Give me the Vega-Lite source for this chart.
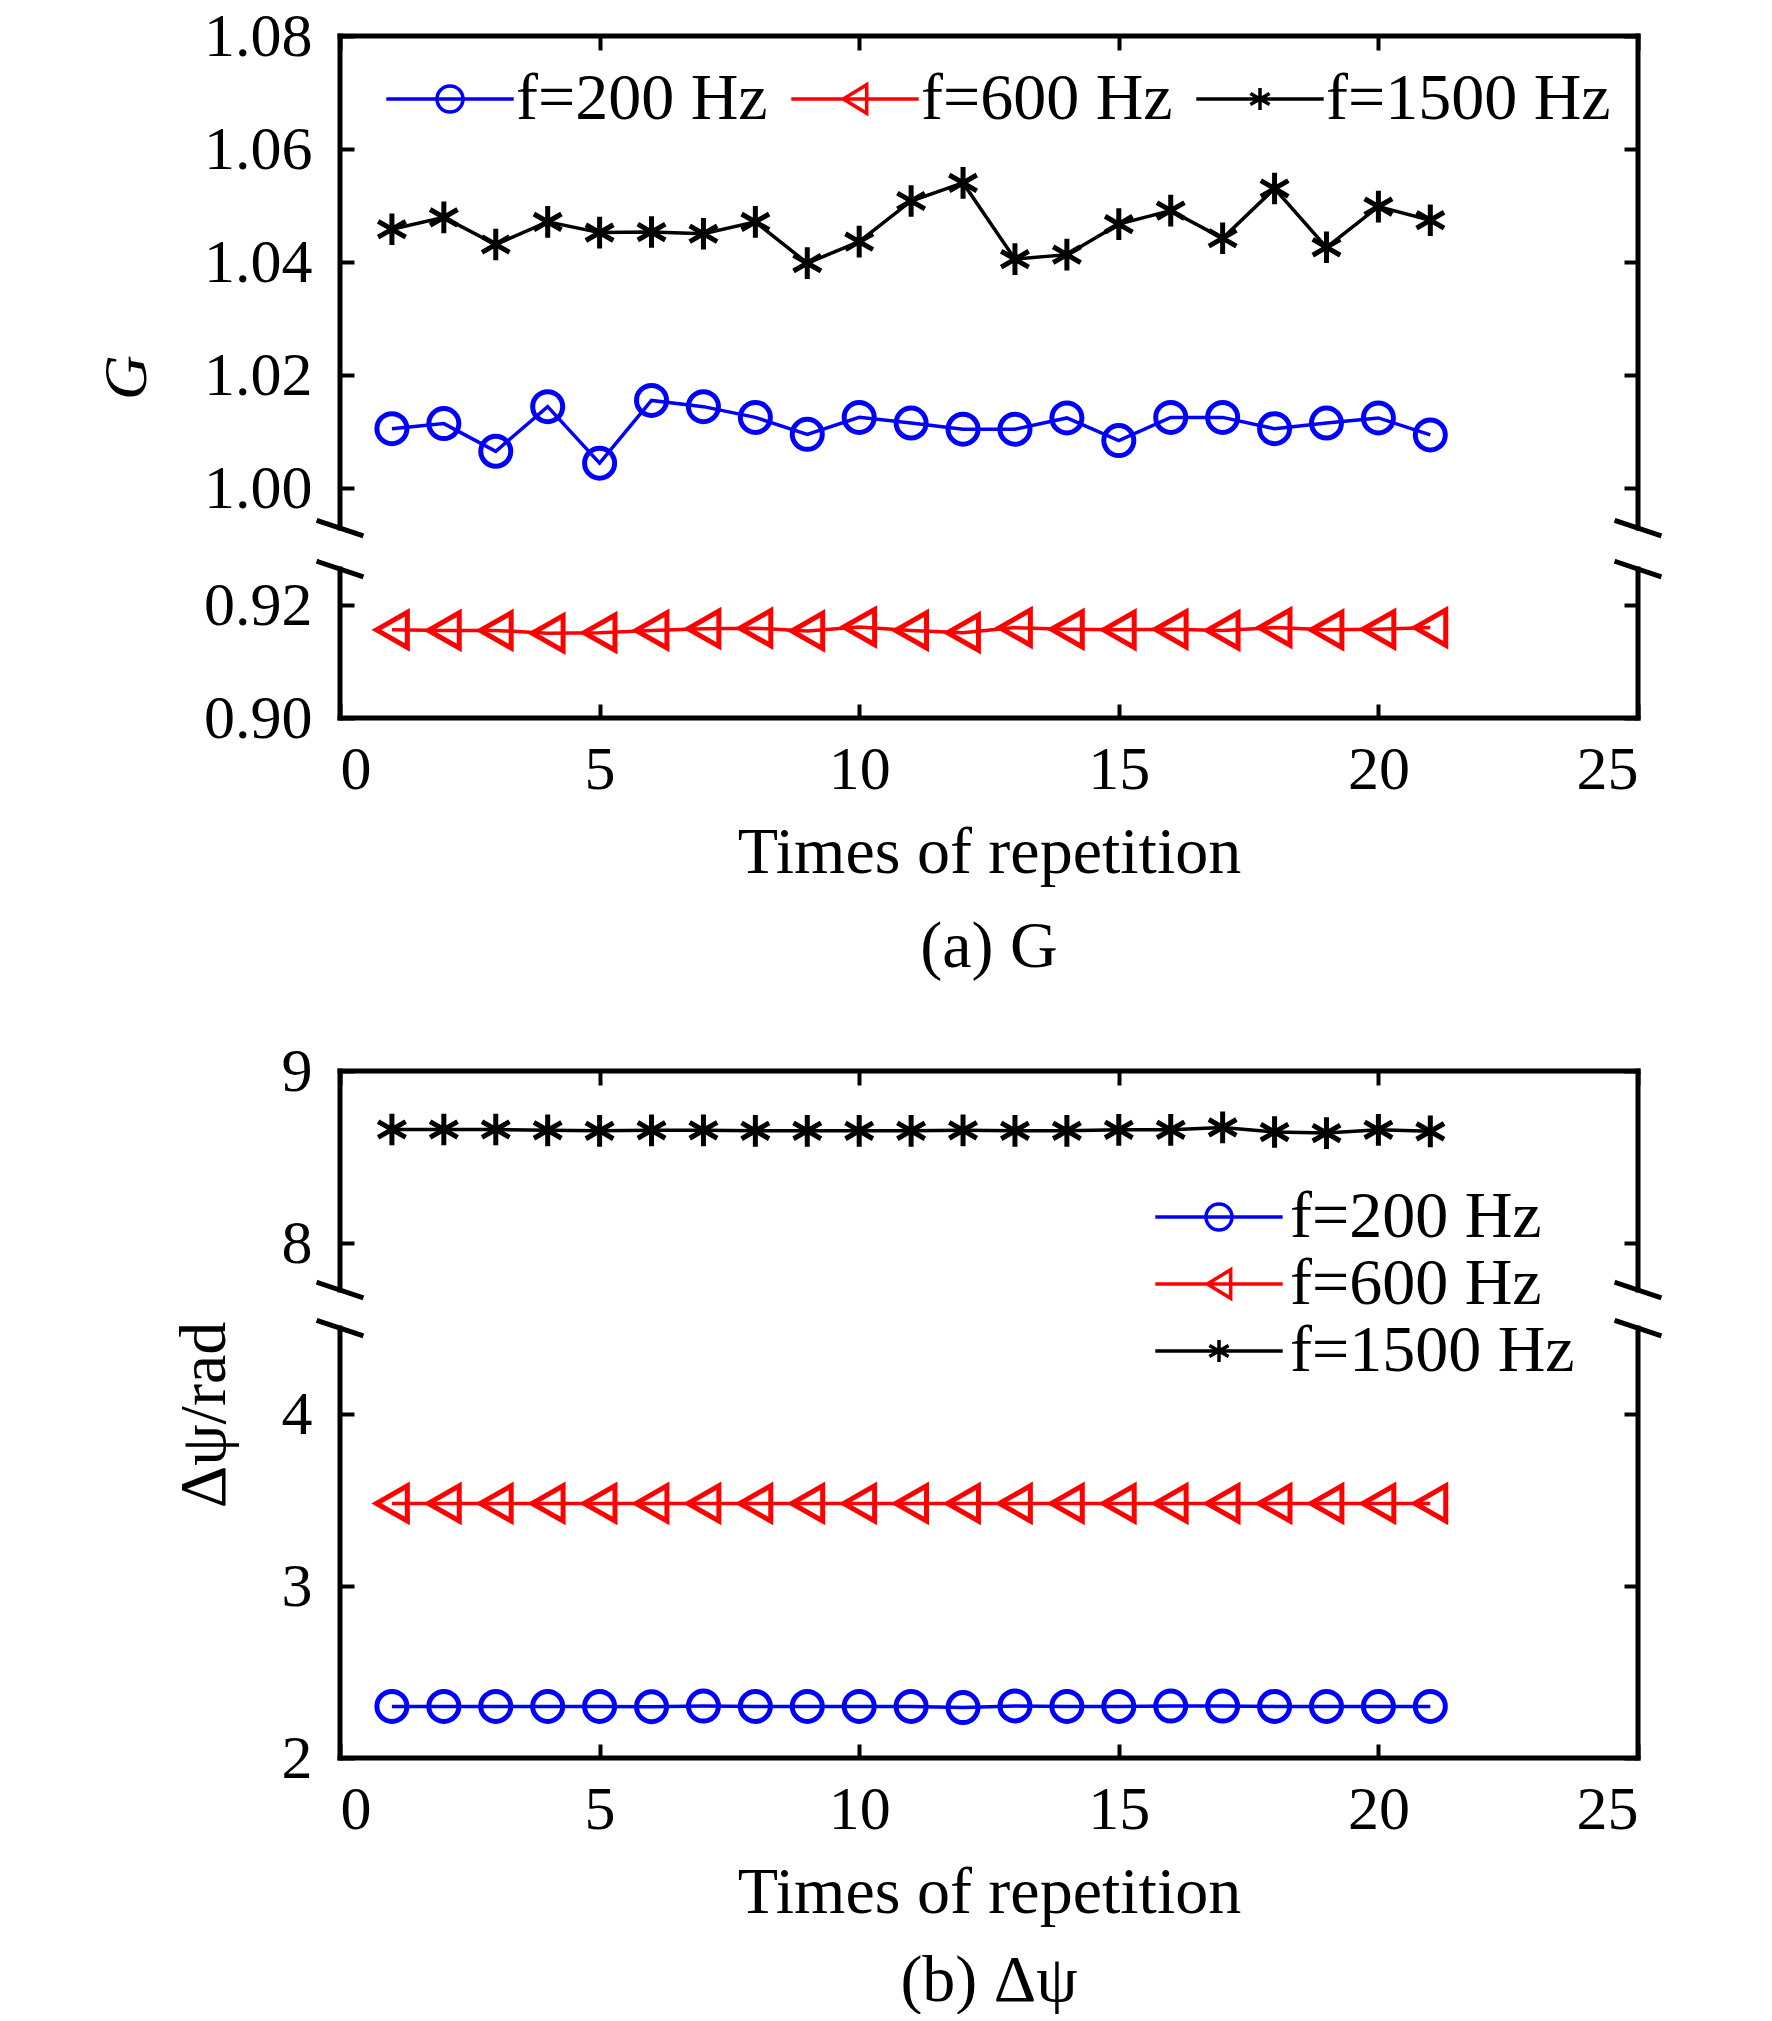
{
  "$schema": "https://vega.github.io/schema/vega-lite/v6.json",
  "background": "white",
  "padding": {"left": 95, "top": 5, "right": 0, "bottom": 0},
  "spacing": 60,
  "resolve": {"scale": {"color": "independent", "shape": "independent", "size": "independent"}},
  "config": {
    "view": {"stroke": null},
    "font": "Liberation Serif",
    "axis": {
      "grid": false, "domain": false,
      "tickColor": "black", "tickWidth": 4, "tickSize": -14,
      "labelFont": "Liberation Serif", "labelFontSize": 62, "labelColor": "black",
      "titleFont": "Liberation Serif", "titleFontSize": 66, "titleFontWeight": "normal", "titleColor": "black"
    },
    "title": {"font": "Liberation Serif", "fontSize": 66, "fontWeight": "normal", "color": "black"},
    "legend": {"labelFont": "Liberation Serif", "labelFontSize": 66, "labelColor": "black", "padding": 0, "labelLimit": 600}
  },
  "datasets": {
    "frame_a": [
      {"x": 0, "x2": 25, "y": 1.08, "y2": 1.08},
      {"x": 0, "x2": 25, "y": 0.90, "y2": 0.90},
      {"x": 0, "x2": 0, "y": 1.08, "y2": 0.9726},
      {"x": 0, "x2": 0, "y": 0.9446, "y2": 0.90},
      {"x": 25, "x2": 25, "y": 1.08, "y2": 0.9726},
      {"x": 25, "x2": 25, "y": 0.9446, "y2": 0.90},
      {"x": -0.405, "x2": 0.405, "y": 0.9774, "y2": 0.9678},
      {"x": -0.405, "x2": 0.405, "y": 0.9494, "y2": 0.9398},
      {"x": 24.595, "x2": 25.405, "y": 0.9774, "y2": 0.9678},
      {"x": 24.595, "x2": 25.405, "y": 0.9494, "y2": 0.9398}
    ],
    "frame_b": [
      {"x": 0, "x2": 25, "y": 9, "y2": 9},
      {"x": 0, "x2": 25, "y": 2, "y2": 2},
      {"x": 0, "x2": 0, "y": 9, "y2": 6.90},
      {"x": 0, "x2": 0, "y": 6.01, "y2": 2},
      {"x": 25, "x2": 25, "y": 9, "y2": 6.90},
      {"x": 25, "x2": 25, "y": 6.01, "y2": 2},
      {"x": -0.405, "x2": 0.405, "y": 7.064, "y2": 6.736},
      {"x": -0.405, "x2": 0.405, "y": 6.174, "y2": 5.846},
      {"x": 24.595, "x2": 25.405, "y": 7.064, "y2": 6.736},
      {"x": 24.595, "x2": 25.405, "y": 6.174, "y2": 5.846}
    ],
    "g": [
      {"series": "f=200 Hz", "n": 1, "v": 1.0105}, {"series": "f=200 Hz", "n": 2, "v": 1.0114},
      {"series": "f=200 Hz", "n": 3, "v": 1.0065}, {"series": "f=200 Hz", "n": 4, "v": 1.0144},
      {"series": "f=200 Hz", "n": 5, "v": 1.0044}, {"series": "f=200 Hz", "n": 6, "v": 1.0155},
      {"series": "f=200 Hz", "n": 7, "v": 1.0144}, {"series": "f=200 Hz", "n": 8, "v": 1.0125},
      {"series": "f=200 Hz", "n": 9, "v": 1.0095}, {"series": "f=200 Hz", "n": 10, "v": 1.0125},
      {"series": "f=200 Hz", "n": 11, "v": 1.0115}, {"series": "f=200 Hz", "n": 12, "v": 1.0104},
      {"series": "f=200 Hz", "n": 13, "v": 1.0104}, {"series": "f=200 Hz", "n": 14, "v": 1.0124},
      {"series": "f=200 Hz", "n": 15, "v": 1.0084}, {"series": "f=200 Hz", "n": 16, "v": 1.0125},
      {"series": "f=200 Hz", "n": 17, "v": 1.0125}, {"series": "f=200 Hz", "n": 18, "v": 1.0105},
      {"series": "f=200 Hz", "n": 19, "v": 1.0115}, {"series": "f=200 Hz", "n": 20, "v": 1.0124},
      {"series": "f=200 Hz", "n": 21, "v": 1.0094},
      {"series": "f=600 Hz", "n": 1, "v": 0.9156}, {"series": "f=600 Hz", "n": 2, "v": 0.9155},
      {"series": "f=600 Hz", "n": 3, "v": 0.9155}, {"series": "f=600 Hz", "n": 4, "v": 0.9150},
      {"series": "f=600 Hz", "n": 5, "v": 0.9151}, {"series": "f=600 Hz", "n": 6, "v": 0.9155},
      {"series": "f=600 Hz", "n": 7, "v": 0.9158}, {"series": "f=600 Hz", "n": 8, "v": 0.9159},
      {"series": "f=600 Hz", "n": 9, "v": 0.9154}, {"series": "f=600 Hz", "n": 10, "v": 0.9161},
      {"series": "f=600 Hz", "n": 11, "v": 0.9155}, {"series": "f=600 Hz", "n": 12, "v": 0.9151},
      {"series": "f=600 Hz", "n": 13, "v": 0.9160}, {"series": "f=600 Hz", "n": 14, "v": 0.9157},
      {"series": "f=600 Hz", "n": 15, "v": 0.9156}, {"series": "f=600 Hz", "n": 16, "v": 0.9157},
      {"series": "f=600 Hz", "n": 17, "v": 0.9155}, {"series": "f=600 Hz", "n": 18, "v": 0.9160},
      {"series": "f=600 Hz", "n": 19, "v": 0.9156}, {"series": "f=600 Hz", "n": 20, "v": 0.9157},
      {"series": "f=600 Hz", "n": 21, "v": 0.9160},
      {"series": "f=1500 Hz", "n": 1, "v": 1.0458}, {"series": "f=1500 Hz", "n": 2, "v": 1.0479},
      {"series": "f=1500 Hz", "n": 3, "v": 1.0431}, {"series": "f=1500 Hz", "n": 4, "v": 1.0471},
      {"series": "f=1500 Hz", "n": 5, "v": 1.0452}, {"series": "f=1500 Hz", "n": 6, "v": 1.0453},
      {"series": "f=1500 Hz", "n": 7, "v": 1.0450}, {"series": "f=1500 Hz", "n": 8, "v": 1.0471},
      {"series": "f=1500 Hz", "n": 9, "v": 1.0398}, {"series": "f=1500 Hz", "n": 10, "v": 1.0436},
      {"series": "f=1500 Hz", "n": 11, "v": 1.0508}, {"series": "f=1500 Hz", "n": 12, "v": 1.0540},
      {"series": "f=1500 Hz", "n": 13, "v": 1.0405}, {"series": "f=1500 Hz", "n": 14, "v": 1.0413},
      {"series": "f=1500 Hz", "n": 15, "v": 1.0467}, {"series": "f=1500 Hz", "n": 16, "v": 1.0491},
      {"series": "f=1500 Hz", "n": 17, "v": 1.0442}, {"series": "f=1500 Hz", "n": 18, "v": 1.0530},
      {"series": "f=1500 Hz", "n": 19, "v": 1.0426}, {"series": "f=1500 Hz", "n": 20, "v": 1.0498},
      {"series": "f=1500 Hz", "n": 21, "v": 1.0474}
    ],
    "psi": [
      {"series": "f=200 Hz", "n": 1, "v": 2.30}, {"series": "f=200 Hz", "n": 2, "v": 2.30},
      {"series": "f=200 Hz", "n": 3, "v": 2.30}, {"series": "f=200 Hz", "n": 4, "v": 2.30},
      {"series": "f=200 Hz", "n": 5, "v": 2.30}, {"series": "f=200 Hz", "n": 6, "v": 2.298},
      {"series": "f=200 Hz", "n": 7, "v": 2.302}, {"series": "f=200 Hz", "n": 8, "v": 2.30},
      {"series": "f=200 Hz", "n": 9, "v": 2.30}, {"series": "f=200 Hz", "n": 10, "v": 2.30},
      {"series": "f=200 Hz", "n": 11, "v": 2.30}, {"series": "f=200 Hz", "n": 12, "v": 2.293},
      {"series": "f=200 Hz", "n": 13, "v": 2.303}, {"series": "f=200 Hz", "n": 14, "v": 2.30},
      {"series": "f=200 Hz", "n": 15, "v": 2.30}, {"series": "f=200 Hz", "n": 16, "v": 2.302},
      {"series": "f=200 Hz", "n": 17, "v": 2.302}, {"series": "f=200 Hz", "n": 18, "v": 2.30},
      {"series": "f=200 Hz", "n": 19, "v": 2.30}, {"series": "f=200 Hz", "n": 20, "v": 2.30},
      {"series": "f=200 Hz", "n": 21, "v": 2.30},
      {"series": "f=600 Hz", "n": 1, "v": 3.48}, {"series": "f=600 Hz", "n": 2, "v": 3.48},
      {"series": "f=600 Hz", "n": 3, "v": 3.48}, {"series": "f=600 Hz", "n": 4, "v": 3.48},
      {"series": "f=600 Hz", "n": 5, "v": 3.48}, {"series": "f=600 Hz", "n": 6, "v": 3.48},
      {"series": "f=600 Hz", "n": 7, "v": 3.48}, {"series": "f=600 Hz", "n": 8, "v": 3.48},
      {"series": "f=600 Hz", "n": 9, "v": 3.48}, {"series": "f=600 Hz", "n": 10, "v": 3.48},
      {"series": "f=600 Hz", "n": 11, "v": 3.48}, {"series": "f=600 Hz", "n": 12, "v": 3.48},
      {"series": "f=600 Hz", "n": 13, "v": 3.48}, {"series": "f=600 Hz", "n": 14, "v": 3.48},
      {"series": "f=600 Hz", "n": 15, "v": 3.48}, {"series": "f=600 Hz", "n": 16, "v": 3.48},
      {"series": "f=600 Hz", "n": 17, "v": 3.48}, {"series": "f=600 Hz", "n": 18, "v": 3.48},
      {"series": "f=600 Hz", "n": 19, "v": 3.48}, {"series": "f=600 Hz", "n": 20, "v": 3.48},
      {"series": "f=600 Hz", "n": 21, "v": 3.48},
      {"series": "f=1500 Hz", "n": 1, "v": 8.66}, {"series": "f=1500 Hz", "n": 2, "v": 8.66},
      {"series": "f=1500 Hz", "n": 3, "v": 8.66}, {"series": "f=1500 Hz", "n": 4, "v": 8.655},
      {"series": "f=1500 Hz", "n": 5, "v": 8.652}, {"series": "f=1500 Hz", "n": 6, "v": 8.655},
      {"series": "f=1500 Hz", "n": 7, "v": 8.655}, {"series": "f=1500 Hz", "n": 8, "v": 8.652},
      {"series": "f=1500 Hz", "n": 9, "v": 8.652}, {"series": "f=1500 Hz", "n": 10, "v": 8.652},
      {"series": "f=1500 Hz", "n": 11, "v": 8.652}, {"series": "f=1500 Hz", "n": 12, "v": 8.655},
      {"series": "f=1500 Hz", "n": 13, "v": 8.652}, {"series": "f=1500 Hz", "n": 14, "v": 8.652},
      {"series": "f=1500 Hz", "n": 15, "v": 8.658}, {"series": "f=1500 Hz", "n": 16, "v": 8.658},
      {"series": "f=1500 Hz", "n": 17, "v": 8.672}, {"series": "f=1500 Hz", "n": 18, "v": 8.645},
      {"series": "f=1500 Hz", "n": 19, "v": 8.639}, {"series": "f=1500 Hz", "n": 20, "v": 8.658},
      {"series": "f=1500 Hz", "n": 21, "v": 8.649}
    ]
  },
  "vconcat": [
    {
      "width": 1298,
      "height": 682,
      "title": {"text": "(a) G", "orient": "bottom", "anchor": "middle", "offset": 30},
      "layer": [
        {
          "layer": [
            {
              "data": {"name": "frame_a"},
              "mark": {"type": "rule", "strokeWidth": 5, "color": "black", "strokeCap": "square"},
              "encoding": {
                "x": {"field": "x", "type": "quantitative", "scale": {"domain": [0, 25], "nice": false, "zero": false},
                      "axis": {"values": [0, 5, 10, 15, 20, 25], "title": "Times of repetition", "labelPadding": 35, "titlePadding": 20}},
                "x2": {"field": "x2"},
                "y": {"field": "y", "type": "quantitative", "scale": {"domain": [0.90, 0.92, 1.00, 1.08], "range": [682, 569, 452, 0], "nice": false, "zero": false},
                      "axis": {"values": [0.90, 0.92, 1.00, 1.02, 1.04, 1.06, 1.08], "format": ".2f", "title": "G", "titleFontStyle": "italic", "titleFontSize": 62, "labelPadding": 42, "titlePadding": 45}},
                "y2": {"field": "y2"}
              }
            },
            {
              "data": {"name": "g"},
              "mark": {"type": "line", "strokeWidth": 3.5},
              "encoding": {
                "x": {"field": "n", "type": "quantitative", "scale": {"domain": [0, 25], "nice": false, "zero": false}},
                "y": {"field": "v", "type": "quantitative", "scale": {"domain": [0.90, 0.92, 1.00, 1.08], "range": [682, 569, 452, 0], "nice": false, "zero": false}},
                "color": {"field": "series", "type": "nominal", "scale": {"domain": ["f=200 Hz", "f=600 Hz", "f=1500 Hz"], "range": ["#0000ff", "#ff0000", "#000000"]}, "legend": null}
              }
            },
            {
              "data": {"name": "g"},
              "mark": {"type": "point", "filled": false, "strokeWidth": 5, "opacity": 1},
              "encoding": {
                "x": {"field": "n", "type": "quantitative", "scale": {"domain": [0, 25], "nice": false, "zero": false}},
                "y": {"field": "v", "type": "quantitative", "scale": {"domain": [0.90, 0.92, 1.00, 1.08], "range": [682, 569, 452, 0], "nice": false, "zero": false}},
                "color": {"field": "series", "type": "nominal", "scale": {"domain": ["f=200 Hz", "f=600 Hz", "f=1500 Hz"], "range": ["#0000ff", "#ff0000", "#000000"]}, "legend": null},
                "shape": {"field": "series", "type": "nominal", "scale": {"domain": ["f=200 Hz", "f=600 Hz", "f=1500 Hz"], "range": ["circle", "M-1,0L1,-1.14L1,1.14Z", "M0,-1V1M-0.87,-0.5L0.87,0.5M-0.87,0.5L0.87,-0.5"]}, "legend": null},
                "size": {"field": "series", "type": "ordinal", "scale": {"domain": ["f=200 Hz", "f=600 Hz", "f=1500 Hz"], "range": [900, 1000, 1100]}, "legend": null}
              }
            },
            {
              "data": {"name": "g"},
              "transform": [{"filter": "datum.n < 0"}],
              "mark": {"type": "point", "filled": false, "strokeWidth": 3.5},
              "encoding": {
                "x": {"field": "n", "type": "quantitative", "scale": {"domain": [0, 25], "nice": false, "zero": false}},
                "y": {"field": "v", "type": "quantitative", "scale": {"domain": [0.90, 0.92, 1.00, 1.08], "range": [682, 569, 452, 0], "nice": false, "zero": false}},
                "color": {"field": "series", "type": "nominal", "scale": {"domain": ["f=200 Hz", "f=600 Hz", "f=1500 Hz"], "range": ["#0000ff", "#ff0000", "#000000"]},
                          "legend": {"orient": "none", "legendX": 77, "legendY": 30, "direction": "horizontal", "title": null, "symbolSize": 676, "symbolStrokeWidth": 3.5, "symbolOpacity": 1, "labelOffset": 33, "columnPadding": 16}},
                "shape": {"field": "series", "type": "nominal", "scale": {"domain": ["f=200 Hz", "f=600 Hz", "f=1500 Hz"], "range": ["M-4.9,0H4.9M-1,0A1,1 0 1,1 1,0A1,1 0 1,1 -1,0", "M-4.9,0H4.9M-0.9,0L0.9,-1.1L0.9,1.1Z", "M-4.9,0H4.9M0,-0.85V0.85M-0.74,-0.43L0.74,0.43M-0.74,0.43L0.74,-0.43"]},
                          "legend": {"orient": "none", "legendX": 77, "legendY": 30, "direction": "horizontal", "title": null, "symbolSize": 676, "symbolStrokeWidth": 3.5, "symbolOpacity": 1, "labelOffset": 33, "columnPadding": 16}}
              }
            }
          ],
          "resolve": {"scale": {"shape": "independent", "color": "independent"}}
        },
        {
          "data": {"name": "frame_a"},
          "mark": {"type": "rule", "opacity": 0},
          "encoding": {
            "x": {"field": "x", "type": "quantitative", "scale": {"domain": [0, 25], "nice": false, "zero": false},
                  "axis": {"orient": "top", "values": [0, 5, 10, 15, 20, 25], "labels": false, "title": null}},
            "y": {"field": "y", "type": "quantitative", "scale": {"domain": [0.90, 0.92, 1.00, 1.08], "range": [682, 569, 452, 0], "nice": false, "zero": false},
                  "axis": {"orient": "right", "values": [0.90, 0.92, 1.00, 1.02, 1.04, 1.06, 1.08], "labels": false, "title": null}}
          }
        }
      ],
      "resolve": {"scale": {"x": "independent", "y": "independent"}, "axis": {"x": "independent", "y": "independent"}}
    },
    {
      "width": 1298,
      "height": 687,
      "title": {"text": "(b) Δψ", "orient": "bottom", "anchor": "middle", "offset": 24},
      "layer": [
        {
          "layer": [
            {
              "data": {"name": "frame_b"},
              "mark": {"type": "rule", "strokeWidth": 5, "color": "black", "strokeCap": "square"},
              "encoding": {
                "x": {"field": "x", "type": "quantitative", "scale": {"domain": [0, 25], "nice": false, "zero": false},
                      "axis": {"values": [0, 5, 10, 15, 20, 25], "title": "Times of repetition", "labelPadding": 35, "titlePadding": 20}},
                "x2": {"field": "x2"},
                "y": {"field": "y", "type": "quantitative", "scale": {"domain": [2, 4, 8, 9], "range": [687, 343, 172, 0], "nice": false, "zero": false},
                      "axis": {"values": [2, 3, 4, 8, 9], "format": "d", "title": "Δψ/rad", "labelPadding": 42, "titlePadding": 43}},
                "y2": {"field": "y2"}
              }
            },
            {
              "data": {"name": "psi"},
              "mark": {"type": "line", "strokeWidth": 3.5},
              "encoding": {
                "x": {"field": "n", "type": "quantitative", "scale": {"domain": [0, 25], "nice": false, "zero": false}},
                "y": {"field": "v", "type": "quantitative", "scale": {"domain": [2, 4, 8, 9], "range": [687, 343, 172, 0], "nice": false, "zero": false}},
                "color": {"field": "series", "type": "nominal", "scale": {"domain": ["f=200 Hz", "f=600 Hz", "f=1500 Hz"], "range": ["#0000ff", "#ff0000", "#000000"]}, "legend": null}
              }
            },
            {
              "data": {"name": "psi"},
              "mark": {"type": "point", "filled": false, "strokeWidth": 5, "opacity": 1},
              "encoding": {
                "x": {"field": "n", "type": "quantitative", "scale": {"domain": [0, 25], "nice": false, "zero": false}},
                "y": {"field": "v", "type": "quantitative", "scale": {"domain": [2, 4, 8, 9], "range": [687, 343, 172, 0], "nice": false, "zero": false}},
                "color": {"field": "series", "type": "nominal", "scale": {"domain": ["f=200 Hz", "f=600 Hz", "f=1500 Hz"], "range": ["#0000ff", "#ff0000", "#000000"]}, "legend": null},
                "shape": {"field": "series", "type": "nominal", "scale": {"domain": ["f=200 Hz", "f=600 Hz", "f=1500 Hz"], "range": ["circle", "M-1,0L1,-1.14L1,1.14Z", "M0,-1V1M-0.87,-0.5L0.87,0.5M-0.87,0.5L0.87,-0.5"]}, "legend": null},
                "size": {"field": "series", "type": "ordinal", "scale": {"domain": ["f=200 Hz", "f=600 Hz", "f=1500 Hz"], "range": [900, 1000, 1100]}, "legend": null}
              }
            },
            {
              "data": {"name": "psi"},
              "transform": [{"filter": "datum.n < 0"}],
              "mark": {"type": "point", "filled": false, "strokeWidth": 3.5},
              "encoding": {
                "x": {"field": "n", "type": "quantitative", "scale": {"domain": [0, 25], "nice": false, "zero": false}},
                "y": {"field": "v", "type": "quantitative", "scale": {"domain": [2, 4, 8, 9], "range": [687, 343, 172, 0], "nice": false, "zero": false}},
                "color": {"field": "series", "type": "nominal", "scale": {"domain": ["f=200 Hz", "f=600 Hz", "f=1500 Hz"], "range": ["#0000ff", "#ff0000", "#000000"]},
                          "legend": {"orient": "none", "legendX": 846, "legendY": 113, "direction": "vertical", "title": null, "symbolSize": 676, "symbolStrokeWidth": 3.5, "symbolOpacity": 1, "labelOffset": 38, "rowPadding": 1}},
                "shape": {"field": "series", "type": "nominal", "scale": {"domain": ["f=200 Hz", "f=600 Hz", "f=1500 Hz"], "range": ["M-4.9,0H4.9M-1,0A1,1 0 1,1 1,0A1,1 0 1,1 -1,0", "M-4.9,0H4.9M-0.9,0L0.9,-1.1L0.9,1.1Z", "M-4.9,0H4.9M0,-0.85V0.85M-0.74,-0.43L0.74,0.43M-0.74,0.43L0.74,-0.43"]},
                          "legend": {"orient": "none", "legendX": 846, "legendY": 113, "direction": "vertical", "title": null, "symbolSize": 676, "symbolStrokeWidth": 3.5, "symbolOpacity": 1, "labelOffset": 38, "rowPadding": 1}}
              }
            }
          ],
          "resolve": {"scale": {"shape": "independent", "color": "independent"}}
        },
        {
          "data": {"name": "frame_b"},
          "mark": {"type": "rule", "opacity": 0},
          "encoding": {
            "x": {"field": "x", "type": "quantitative", "scale": {"domain": [0, 25], "nice": false, "zero": false},
                  "axis": {"orient": "top", "values": [0, 5, 10, 15, 20, 25], "labels": false, "title": null}},
            "y": {"field": "y", "type": "quantitative", "scale": {"domain": [2, 4, 8, 9], "range": [687, 343, 172, 0], "nice": false, "zero": false},
                  "axis": {"orient": "right", "values": [2, 3, 4, 8, 9], "labels": false, "title": null}}
          }
        }
      ],
      "resolve": {"scale": {"x": "independent", "y": "independent"}, "axis": {"x": "independent", "y": "independent"}}
    }
  ]
}
